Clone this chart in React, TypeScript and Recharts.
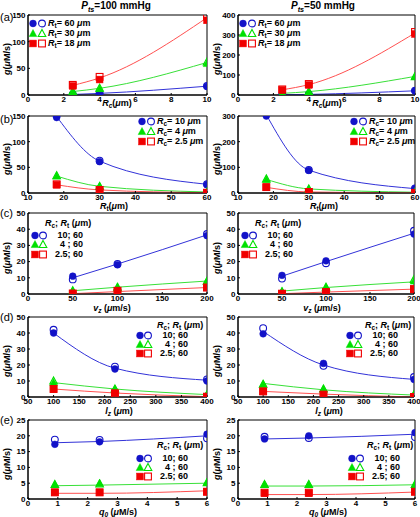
import React from 'react';
import { ComposedChart, Line, Scatter, XAxis, YAxis, ReferenceArea } from 'recharts';

// x positions of the simulated points
const rcValues = [2.5, 4, 10];
const rtValues = [18, 30, 60];
const vzValues = [50, 100, 200];
const lzValues = [100, 220, 400];
const q0Values = [0.9, 2.4, 6];

// each row: [filled, open, fit] at the matching x
const a100Blue = [[1, 1, 1], [3, 3, 3], [16, 17, 16.5]];
const a100Green = [[6, 7, 6.5], [12, 13, 12.5], [59, 62, 61]];
const a100Red = [[17, 19, 18], [29, 34, 32], [140, 147, 145]];
const a50Blue = [[1, 1, 1], [3, 3, 3], [21, 22, 21]];
const a50Green = [[8, 8, 8], [17, 17, 17], [95, 92, 93]];
const a50Red = [[25, 28, 26], [50, 55, 52], [305, 315, 310]];

const b100Blue = [[147, 151, 149], [61, 63, 62], [16, 17, 17]];
const b100Green = [[33, 34, 33], [13, 13, 13], [2, 2, 2]];
const b100Red = [[16, 17, 16], [6, 6, 6], [0.5, 0.5, 0.5]];
const b50Blue = [[300, 310, 305], [88, 90, 89], [17, 18, 17]];
const b50Green = [[53, 55, 53], [16, 16, 16], [3, 3, 3]];
const b50Red = [[22, 23, 22], [4, 4, 4], [0.5, 0.5, 0.5]];

const c100Blue = [[11, 9, 10], [18, 18.5, 18.5], [36, 37, 36.5]];
const c100Green = [[2, 2, 2], [4.5, 4, 4.2], [8, 8, 8]];
const c100Red = [[0.3, 0.3, 0.2], [2, 2, 1.5], [4, 4, 4]];
const c50Blue = [[11.5, 9.5, 11], [20.5, 19, 20], [37, 39, 37.5]];
const c50Green = [[1.5, 1.5, 1.8], [4.5, 4, 4], [8, 9, 7.5]];
const c50Red = [[0.2, 0.2, 0.2], [1.2, 1.2, 1.2], [3, 3, 3]];

const d100Blue = [[40, 42, 40], [17.5, 19, 18], [10, 11, 10.5]];
const d100Green = [[9, 10, 9], [5, 5, 5], [1.5, 1.5, 1.5]];
const d100Red = [[5, 5, 5], [2.5, 2, 2.5], [0.2, 0.2, 0.2]];
const d50Blue = [[39.5, 43, 41], [21, 19.5, 20], [11, 12.5, 11]];
const d50Green = [[8, 8, 8.5], [5, 5, 4.5], [1.5, 1.5, 1.2]];
const d50Red = [[3.5, 3.5, 3.5], [1.5, 1.5, 1.8], [0, 0, 0]];

const e100Blue = [[17.3, 18.8, 17.8], [18.1, 18.7, 18.2], [20.5, 19.2, 20]];
const e100Green = [[4.6, 4.6, 4.2], [5, 4.8, 4.4], [5.3, 5.2, 5]];
const e100Red = [[2.1, 2.1, 1.8], [2.1, 2.1, 1.8], [2.3, 2.3, 2.6]];
const e50Blue = [[19, 19.7, 19], [20, 19.3, 19.3], [21, 19.6, 20.5]];
const e50Green = [[4.6, 4.6, 4.1], [4.6, 4.6, 4.1], [4.6, 4.6, 4.5]];
const e50Red = [[1.8, 2, 1.4], [1.8, 2, 1.4], [2.3, 2.3, 2.2]];

// axis ticks
const rcTicks = [0, 2, 4, 6, 8, 10];
const rtTicks = [10, 20, 30, 40, 50, 60];
const vzTicks = [0, 50, 100, 150, 200];
const lzTicks = [50, 100, 150, 200, 250, 300, 350, 400];
const q0Ticks = [0, 1, 2, 3, 4, 5, 6];
const g150Ticks = [0, 50, 100, 150];
const g400Ticks = [0, 100, 200, 300, 400];
const g300Ticks = [0, 100, 200, 300];
const g50Ticks = [0, 10, 20, 30, 40, 50];
const g25Ticks = [0, 5, 10, 15, 20, 25];

// legend labels
const rtLabels = ['60', '30', '18'];
const rcLabels = ['10', '4', '2.5'];
const pairLabels = ['10; 60', '4 ; 60', '2.5; 60'];

const font = '"Liberation Sans", Arial, sans-serif';
const kinds = ['circle', 'triangle', 'square'];
const markColors = ['#1212c8', '#00e000', '#f00000'];
const lineColors = ['#3232d8', '#38e038', '#ff5050'];

function Marker({ cx, cy, kind, color, open }: any) {
  if (cx == null || cy == null) return <g />;
  const s = 3.4;
  const st = open
    ? { fill: 'none', stroke: color, strokeWidth: 1.1 }
    : { fill: color, stroke: color, strokeWidth: 0.5 };
  if (kind === 'circle') return <circle cx={cx} cy={cy} r={s} {...st} />;
  if (kind === 'triangle')
    return (
      <polygon
        points={`${cx},${cy - s - 0.6} ${cx + s + 0.4},${cy + s * 0.9} ${cx - s - 0.4},${cy + s * 0.9}`}
        {...st}
      />
    );
  return <rect x={cx - s} y={cy - s} width={2 * s} height={2 * s} {...st} />;
}

function Glyph({ i, open }: { i: number; open: boolean }) {
  return (
    <svg width={8} height={9} style={{ display: 'block', overflow: 'visible' }}>
      <Marker cx={4} cy={4.5} kind={kinds[i]} color={markColors[i]} open={open} />
    </svg>
  );
}

const Sub = ({ children }: any) => (
  <span style={{ fontSize: '0.72em', position: 'relative', top: '0.35em' }}>{children}</span>
);

function Txt({ x, y, children, size = 9, bold = true, anchor = 'left', rotate = false, bg = false }: any) {
  const tx = anchor === 'center' ? '-50%' : anchor === 'right' ? '-100%' : '0';
  return (
    <div
      style={{
        position: 'absolute',
        left: x,
        top: y,
        transform: rotate ? 'translate(-50%,-50%) rotate(-90deg)' : `translate(${tx},-50%)`,
        fontFamily: font,
        fontSize: size,
        fontWeight: bold ? 'bold' : 'normal',
        whiteSpace: 'nowrap',
        lineHeight: 1,
        color: '#000',
        background: bg ? '#fff' : 'transparent',
      }}
    >
      {children}
    </div>
  );
}

function Panel({ left, plotTop, plotH, rightGap, xs, series, xDomain, xTicks, yDomain, yTicks }: any) {
  const mt = 6;
  const axisH = 14;
  const extra = 12;
  const tickStyle = { fontSize: 8, fontWeight: 'bold', fill: '#000', fontFamily: font };
  return (
    <div style={{ position: 'absolute', left, top: plotTop - mt }}>
      <ComposedChart
        width={210 + extra}
        height={mt + plotH + axisH}
        margin={{ top: mt, right: rightGap + extra, bottom: 0, left: 0 }}
      >
        <XAxis
          type="number"
          dataKey="x"
          domain={xDomain}
          ticks={xTicks}
          allowDataOverflow
          height={axisH}
          tick={tickStyle}
          tickLine={{ stroke: '#000' }}
          tickSize={-2}
          tickMargin={3}
          axisLine={{ stroke: '#000' }}
          interval={0}
        />
        <YAxis
          type="number"
          domain={yDomain}
          ticks={yTicks}
          allowDataOverflow
          width={28}
          tick={tickStyle}
          tickLine={{ stroke: '#000' }}
          tickSize={-2}
          tickMargin={4.5}
          axisLine={{ stroke: '#000' }}
          interval={0}
        />
        <ReferenceArea
          x1={xDomain[0]}
          x2={xDomain[1]}
          y1={yDomain[0]}
          y2={yDomain[1]}
          fill="none"
          stroke="#000"
          strokeWidth={1}
        />
        {series.map((rows: number[][], i: number) => {
          const data = xs.map((x: number, k: number) => ({
            x,
            filled: rows[k][0],
            open: rows[k][1],
            fit: rows[k][2],
          }));
          return (
            <React.Fragment key={`s-${i}`}>
              <Line
                data={data}
                dataKey="fit"
                type="monotone"
                stroke={lineColors[i]}
                strokeWidth={1}
                dot={false}
                isAnimationActive={false}
              />
              <Scatter
                data={data}
                dataKey="filled"
                isAnimationActive={false}
                shape={(p: any) => <Marker cx={p.cx} cy={p.cy} kind={kinds[i]} color={markColors[i]} open={false} />}
              />
              <Scatter
                data={data}
                dataKey="open"
                isAnimationActive={false}
                shape={(p: any) => <Marker cx={p.cx} cy={p.cy} kind={kinds[i]} color={markColors[i]} open />}
              />
            </React.Fragment>
          );
        })}
      </ComposedChart>
    </div>
  );
}

// fc = centre of the filled marker column
function RLegend({ fc, y, sub, labels }: any) {
  return (
    <>
      {labels.map((lab: string, i: number) => (
        <div
          key={lab}
          style={{ position: 'absolute', left: fc - 4, top: y + i * 10 - 4.5, display: 'flex', alignItems: 'center', whiteSpace: 'nowrap' }}
        >
          <Glyph i={i} open={false} />
          <div style={{ width: 1 }} />
          <Glyph i={i} open />
          <span style={{ fontFamily: font, fontSize: 9, fontWeight: 'bold', marginLeft: 2, lineHeight: 1 }}>
            <i>R</i>
            <Sub>{sub}</Sub>= {lab} <i>μ</i>m
          </span>
        </div>
      ))}
    </>
  );
}

function PairLegend({ fc, y, hdr, first, gap }: any) {
  return (
    <>
      <Txt x={fc + hdr} y={y}>
        <i>R</i>
        <Sub>c</Sub>; <i>R</i>
        <Sub>t</Sub> (<i>μ</i>m)
      </Txt>
      {pairLabels.map((lab, i) => (
        <div
          key={lab}
          style={{ position: 'absolute', left: fc - 4, top: y + first + i * gap - 4.5, display: 'flex', alignItems: 'center' }}
        >
          <Glyph i={i} open={false} />
          <Glyph i={i} open />
          <span
            style={{
              fontFamily: font,
              fontSize: 9,
              fontWeight: 'bold',
              width: 36,
              textAlign: 'right',
              lineHeight: 1,
              whiteSpace: 'pre',
            }}
          >
            {lab}
          </span>
        </div>
      ))}
    </>
  );
}

const GLabel = () => (
  <>
    <i>g</i>(<i>μ</i>M/s)
  </>
);

const rows = [
  { top: 15, h: 80, label: '(a)', lab: 17 },
  { top: 116, h: 77, label: '(b)', lab: 119 },
  { top: 213, h: 81, label: '(c)', lab: 213 },
  { top: 317, h: 80, label: '(d)', lab: 317 },
  { top: 420, h: 79, label: '(e)', lab: 420 },
];

export default function App() {
  const L = 0;
  const R = 210;
  return (
    <div style={{ position: 'absolute', left: 0, top: 0, width: 420, height: 517, background: '#fff', overflow: 'hidden' }}>
      {/* row (a) */}
      <Panel left={L} plotTop={15} plotH={80} rightGap={3} xs={rcValues} series={[a100Blue, a100Green, a100Red]}
        xDomain={[0, 10]} xTicks={rcTicks} yDomain={[0, 150]} yTicks={g150Ticks} />
      <Panel left={R} plotTop={15} plotH={80} rightGap={5} xs={rcValues} series={[a50Blue, a50Green, a50Red]}
        xDomain={[0, 10]} xTicks={rcTicks} yDomain={[0, 400]} yTicks={g400Ticks} />
      {/* row (b) */}
      <Panel left={L} plotTop={116} plotH={77} rightGap={3} xs={rtValues} series={[b100Blue, b100Green, b100Red]}
        xDomain={[10, 60]} xTicks={rtTicks} yDomain={[0, 150]} yTicks={g150Ticks} />
      <Panel left={R} plotTop={116} plotH={77} rightGap={5} xs={rtValues} series={[b50Blue, b50Green, b50Red]}
        xDomain={[10, 60]} xTicks={rtTicks} yDomain={[0, 300]} yTicks={g300Ticks} />
      {/* row (c) */}
      <Panel left={L} plotTop={213} plotH={81} rightGap={3} xs={vzValues} series={[c100Blue, c100Green, c100Red]}
        xDomain={[0, 200]} xTicks={vzTicks} yDomain={[0, 50]} yTicks={g50Ticks} />
      <Panel left={R} plotTop={213} plotH={81} rightGap={6} xs={vzValues} series={[c50Blue, c50Green, c50Red]}
        xDomain={[0, 200]} xTicks={vzTicks} yDomain={[0, 50]} yTicks={g50Ticks} />
      {/* row (d) */}
      <Panel left={L} plotTop={317} plotH={80} rightGap={3} xs={lzValues} series={[d100Blue, d100Green, d100Red]}
        xDomain={[50, 400]} xTicks={lzTicks} yDomain={[0, 50]} yTicks={g50Ticks} />
      <Panel left={R} plotTop={317} plotH={80} rightGap={6} xs={lzValues} series={[d50Blue, d50Green, d50Red]}
        xDomain={[50, 400]} xTicks={lzTicks} yDomain={[0, 50]} yTicks={g50Ticks} />
      {/* row (e) */}
      <Panel left={L} plotTop={420} plotH={79} rightGap={3} xs={q0Values} series={[e100Blue, e100Green, e100Red]}
        xDomain={[0, 6]} xTicks={q0Ticks} yDomain={[0, 25]} yTicks={g25Ticks} />
      <Panel left={R} plotTop={420} plotH={79} rightGap={5} xs={q0Values} series={[e50Blue, e50Green, e50Red]}
        xDomain={[0, 6]} xTicks={q0Ticks} yDomain={[0, 25]} yTicks={g25Ticks} />

      <Txt x={116} y={6} size={10} anchor="center">
        <i>P</i>
        <Sub><i>ts</i></Sub>=100 mmHg
      </Txt>
      <Txt x={323} y={6} size={10} anchor="center">
        <i>P</i>
        <Sub><i>ts</i></Sub>=50 mmHg
      </Txt>

      {rows.map((r) => (
        <React.Fragment key={r.label}>
          <Txt x={0} y={r.lab} size={11} bold={false} bg>{r.label}</Txt>
          <Txt x={7} y={r.top + r.h / 2 + 4} rotate><GLabel /></Txt>
          <Txt x={217} y={r.top + r.h / 2 + 4} rotate><GLabel /></Txt>
        </React.Fragment>
      ))}

      {/* x axis titles */}
      {[L, R].map((c) => (
        <React.Fragment key={`xl-${c}`}>
          <Txt x={c + 117} y={102.5} anchor="center"><i>R</i><Sub><i>c</i></Sub>(<i>μ</i>m)</Txt>
          <Txt x={c + 114} y={205.5} anchor="center"><i>R</i><Sub>t</Sub>(<i>μ</i>m)</Txt>
          <Txt x={c + 112} y={307.5} anchor="center"><i>v</i><Sub><i>z</i></Sub> (<i>μ</i>m/s)</Txt>
          <Txt x={c + 119} y={410.5} anchor="center"><i>l</i><Sub><i>z</i></Sub> (<i>μ</i>m)</Txt>
          <Txt x={c + 118} y={511.5} anchor="center"><i>q</i><Sub><i>0</i></Sub> (<i>μ</i>M/s)</Txt>
        </React.Fragment>
      ))}

      {/* legends */}
      <RLegend fc={33} y={23} sub="t" labels={rtLabels} />
      <RLegend fc={243} y={23} sub="t" labels={rtLabels} />
      <RLegend fc={142} y={121} sub="c" labels={rcLabels} />
      <RLegend fc={354} y={121} sub="c" labels={rcLabels} />
      <PairLegend fc={35} y={223} hdr={10} first={12} gap={9.5} />
      <PairLegend fc={245} y={223} hdr={10} first={12} gap={9.5} />
      <PairLegend fc={140} y={325} hdr={17} first={10} gap={9} />
      <PairLegend fc={350} y={325} hdr={15} first={10} gap={9} />
      <PairLegend fc={140} y={445} hdr={17} first={13} gap={9} />
      <PairLegend fc={352} y={445} hdr={15} first={13} gap={9} />
    </div>
  );
}
